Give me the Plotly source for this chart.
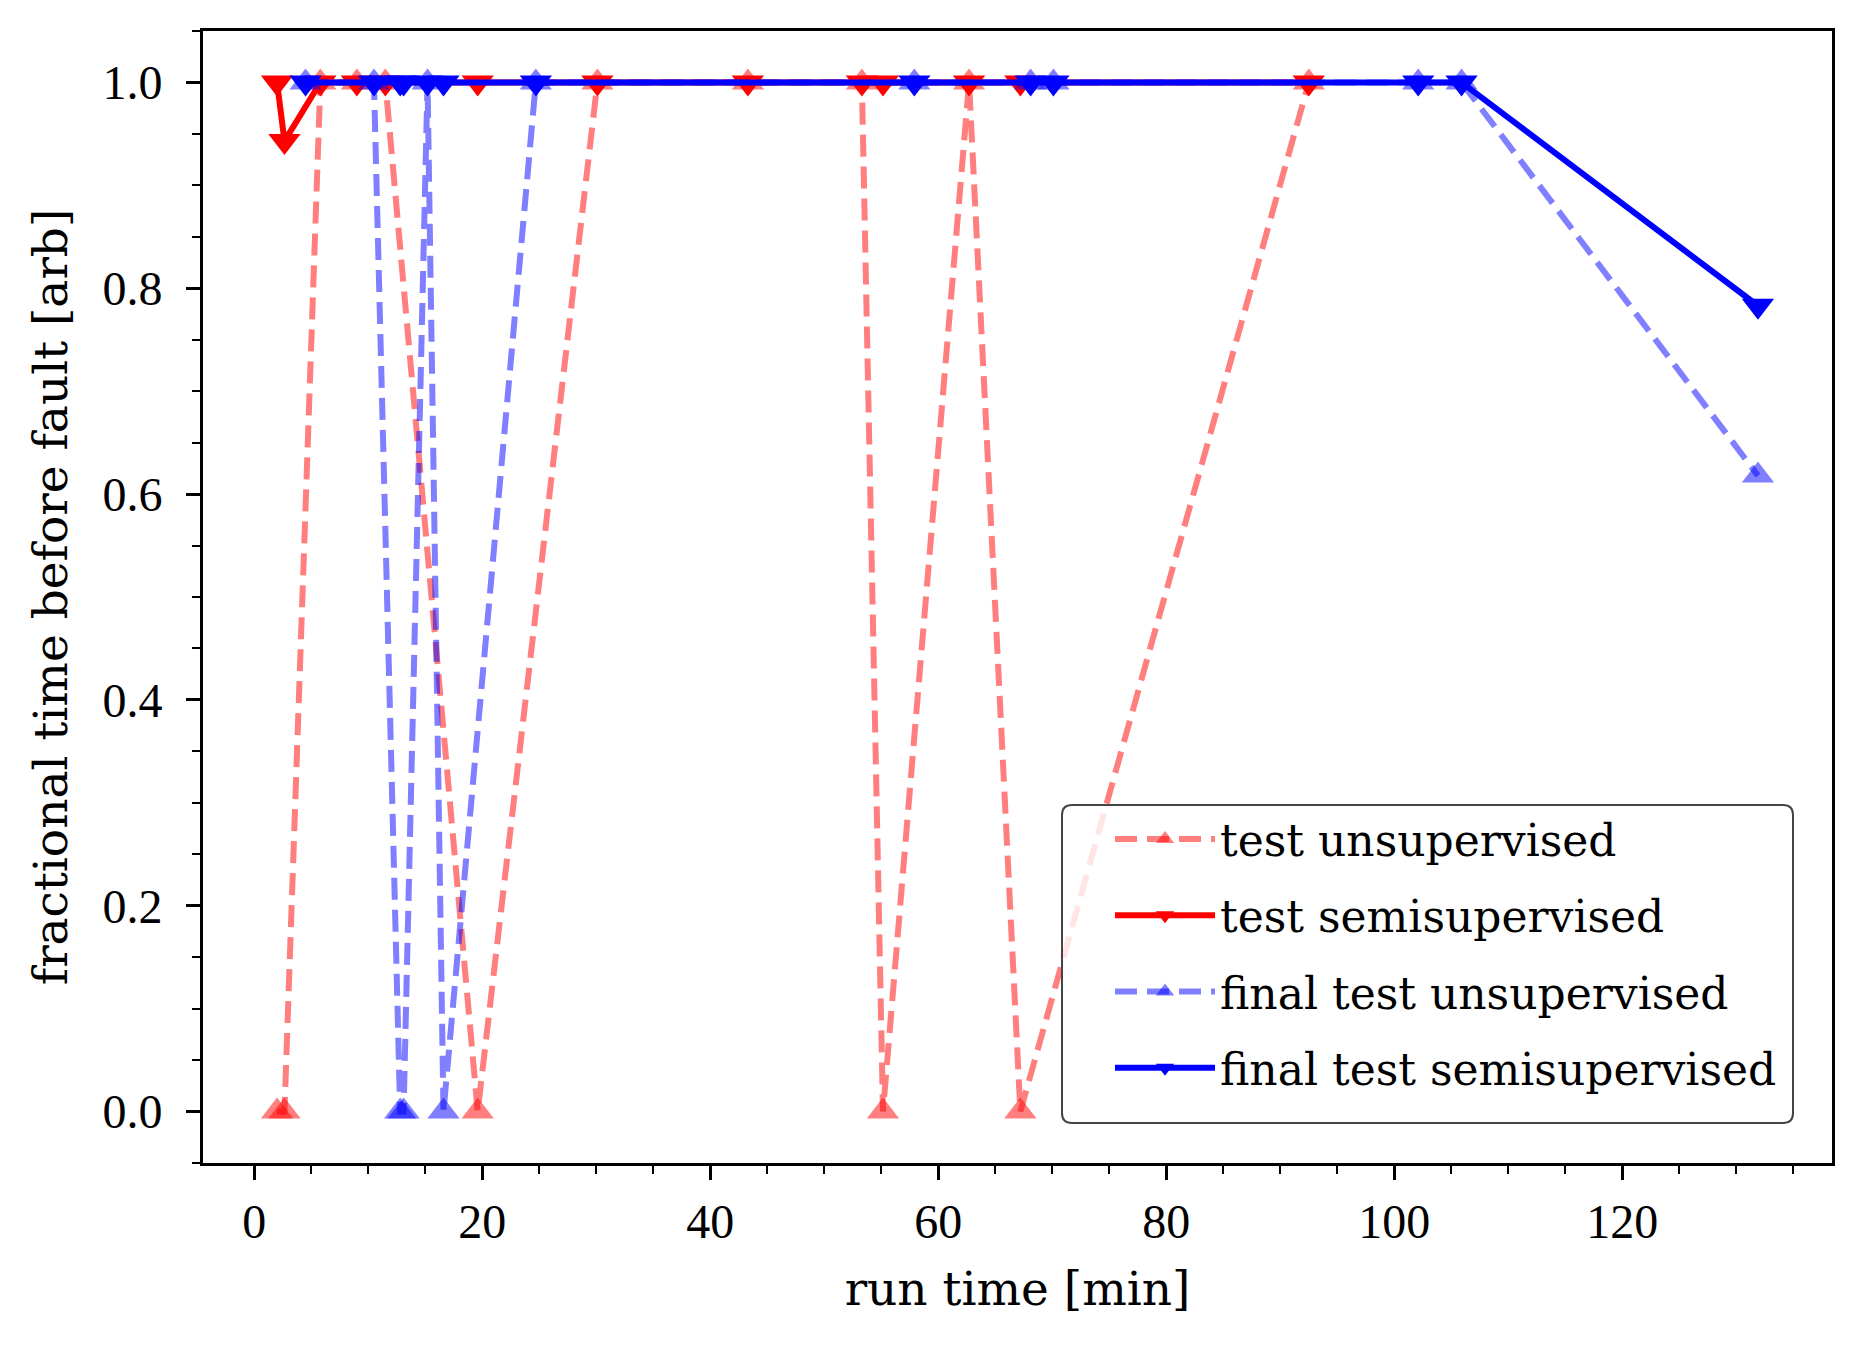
import plotly.graph_objects as go

# test set (red)
test_x = [2.0, 2.65, 5.8, 9.0, 11.5, 19.6, 30.1, 43.3, 53.3, 55.15, 62.7, 67.2, 92.5]
test_unsup = [0.0, 0.0, 1.0, 1.0, 1.0, 0.0, 1.0, 1.0, 1.0, 0.0, 1.0, 0.0, 1.0]
test_semi = [1.0, 0.943, 1.0, 1.0, 1.0, 1.0, 1.0, 1.0, 1.0, 1.0, 1.0, 1.0, 1.0]

# final test set (blue)
final_x = [4.5, 10.5, 12.8, 13.1, 15.2, 16.6, 24.7, 57.9, 68.1, 70.1, 102.1, 105.9, 131.9]
final_unsup = [1.0, 1.0, 0.0, 0.0, 1.0, 0.0, 1.0, 1.0, 1.0, 1.0, 1.0, 1.0, 0.618]
final_semi = [1.0, 1.0, 1.0, 1.0, 1.0, 1.0, 1.0, 1.0, 1.0, 1.0, 1.0, 1.0, 0.783]

TICK_FONT = "Liberation Serif"
TEXT_FONT = "DejaVu Serif"
LW = 6
MS = 28

series = [
    ("test unsupervised", test_x, test_unsup, "rgba(255,0,0,0.5)", "triangle-up", "22px,10px"),
    ("test semisupervised", test_x, test_semi, "rgb(255,0,0)", "triangle-down", "solid"),
    ("final test unsupervised", final_x, final_unsup, "rgba(0,0,255,0.5)", "triangle-up", "22px,10px"),
    ("final test semisupervised", final_x, final_semi, "rgb(0,0,255)", "triangle-down", "solid"),
]

fig = go.Figure()
for i, (name, xs, ys, col, sym, dash) in enumerate(series):
    fig.add_trace(go.Scatter(
        x=xs, y=ys, name=name, mode="lines+markers",
        legendgroup=str(i),
        line=dict(color=col, width=LW, dash=dash),
        marker=dict(color=col, symbol=sym, size=MS, line=dict(width=0)),
    ))

# matplotlib-style 5% auto margins
all_x = test_x + final_x
xpad = 0.05 * (max(all_x) - min(all_x))
xrange = [min(all_x) - xpad, max(all_x) + xpad]

axis_common = dict(
    showline=True, linecolor="black", linewidth=3, mirror=True,
    ticks="outside", ticklen=14, tickwidth=3, tickcolor="black",
    showgrid=False, zeroline=False,
    tickfont=dict(family=TICK_FONT, size=48, color="black"),
)

fig.update_xaxes(
    range=xrange, dtick=20, tick0=0,
    minor=dict(dtick=5, ticks="outside", ticklen=8, tickwidth=2, tickcolor="black"),
    title=dict(text="run time [min]", font=dict(family=TEXT_FONT, size=47, color="black"), standoff=26),
    **axis_common,
)
fig.update_yaxes(
    range=[-0.05, 1.05], dtick=0.2, tick0=0, tickformat=".1f",
    minor=dict(dtick=0.05, ticks="outside", ticklen=8, tickwidth=2, tickcolor="black"),
    ticklabelstandoff=14,
    title=dict(text="fractional time before fault [arb]", font=dict(family=TEXT_FONT, size=47, color="black"), standoff=20),
    **axis_common,
)

# plot area size in px (page body has an 8px margin, canvas trimmed to keep plot area in place)
W, H = 1843, 1337
ML, MR, MT, MB = 195, 19, 23, 182
PW, PH = W - ML - MR, H - MT - MB

# rounded legend frame, in plot-area pixels from the left/bottom
bx0, bx1, by0, by1, rad = 859, 1590, 40, 358, 10
rx, ry = rad / PW, rad / PH
X0, X1, Y0, Y1 = bx0 / PW, bx1 / PW, by0 / PH, by1 / PH
frame = (
    f"M{X0 + rx},{Y0} L{X1 - rx},{Y0} Q{X1},{Y0} {X1},{Y0 + ry} "
    f"L{X1},{Y1 - ry} Q{X1},{Y1} {X1 - rx},{Y1} "
    f"L{X0 + rx},{Y1} Q{X0},{Y1} {X0},{Y1 - ry} "
    f"L{X0},{Y0 + ry} Q{X0},{Y0} {X0 + rx},{Y0} Z"
)

fig.update_layout(
    width=W, height=H,
    margin=dict(l=ML, r=MR, t=MT, b=MB),
    paper_bgcolor="white", plot_bgcolor="white",
    font=dict(family=TEXT_FONT, color="black"),
    shapes=[dict(type="path", xref="paper", yref="paper", path=frame,
                 fillcolor="rgba(255,255,255,0.8)", line=dict(color="#444", width=2),
                 layer="above")],
    legend=dict(
        x=(bx0 + 48) / PW, y=(by1 + 1) / PH, xanchor="left", yanchor="top",
        bgcolor="rgba(0,0,0,0)", borderwidth=0,
        font=dict(family=TEXT_FONT, size=44, color="black"),
        tracegroupgap=16, itemwidth=100,
    ),
)

fig.write_html("out.html")
